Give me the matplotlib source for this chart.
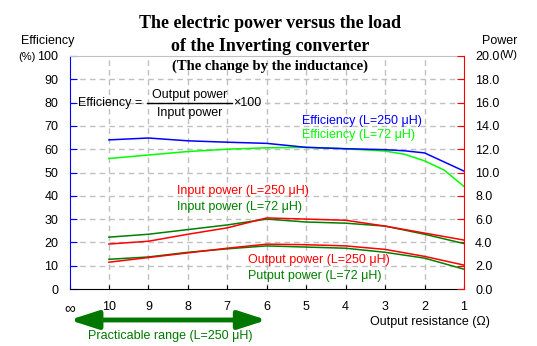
import matplotlib.pyplot as plt
from matplotlib.lines import Line2D

plt.rcParams['font.family'] = ['Liberation Sans', 'DejaVu Sans']
plt.rcParams['font.size'] = 9

# output resistance (ohm) for each measured point
res_eff = [10, 9, 8, 7, 6, 5, 4, 3, 2.5, 2, 1.5, 1]
eff_250 = [64, 64.8, 63.6, 63, 62.5, 60.8, 60.2, 59.8, 59.3, 58.4, 54.5, 50.6]
eff_72 = [56, 57.5, 59, 60, 60.6, 60.8, 60.2, 59.2, 57.8, 55, 51, 44]

res_pw = [10, 9, 8, 7, 6, 5, 4, 3, 2, 1]
pin_250 = [3.86, 4.1, 4.7, 5.25, 6.1, 6.0, 5.9, 5.4, 4.8, 4.2]
pin_72 = [4.45, 4.7, 5.1, 5.5, 6.0, 5.75, 5.65, 5.4, 4.7, 3.9]
pout_250 = [2.3, 2.7, 3.1, 3.5, 3.85, 3.8, 3.7, 3.4, 2.8, 2.05]
pout_72 = [2.55, 2.75, 3.15, 3.45, 3.7, 3.6, 3.5, 3.15, 2.65, 1.7]

x_labels = ['∞', '10', '9', '8', '7', '6', '5', '4', '3', '2', '1']


def pos(r_list):
    # equally spaced axis: infinity at 0, 1 ohm at 10
    return [11 - r for r in r_list]


fig = plt.figure(figsize=(5.37, 3.46), dpi=100)
ax = fig.add_axes([69.5 / 537, 57 / 346, 394.5 / 537, 233 / 346])
ax2 = ax.twinx()

# efficiency (left axis)
ax.plot(pos(res_eff), eff_250, color='#0000ff', lw=1.1, zorder=4)
ax.plot(pos(res_eff), eff_72, color='#00ff00', lw=1.1, zorder=3)

# power (right axis)
ax2.plot(pos(res_pw), pin_72, color='#008000', lw=1.1)
ax2.plot(pos(res_pw), pin_250, color='#ff0000', lw=1.1)
ax2.plot(pos(res_pw), pout_72, color='#008000', lw=1.1)
ax2.plot(pos(res_pw), pout_250, color='#ff0000', lw=1.1)

ax.set_xlim(0, 10)
ax.set_ylim(0, 100)
ax2.set_ylim(0, 20)
ax.set_xticks(range(11))
ax.set_xticklabels(x_labels)
ax.get_xticklabels()[0].set_fontsize(11)
ax.set_yticks(range(0, 101, 10))
ax2.set_yticks(range(0, 21, 2))
ax2.set_yticklabels(['%.1f' % v for v in range(0, 21, 2)])

# grid
for v in range(10, 100, 10):
    ax.axhline(v, color='#c0c0c0', lw=1, ls=(0, (4, 3)), zorder=0)
for v in range(1, 10):
    ax.axvline(v, color='#c0c0c0', lw=1, ls=(0, (4, 3)), zorder=0)

# spines
ax.spines['left'].set_color('#0000ff')
ax.spines['top'].set_color('#c0c0c0')
ax.spines['right'].set_visible(False)
ax.spines['bottom'].set_color('black')
for s in ['left', 'top', 'bottom']:
    ax2.spines[s].set_visible(False)
ax2.spines['right'].set_color('#ff0000')

ax.tick_params(axis='y', direction='in', color='#0000ff', length=5, pad=8)
ax.tick_params(axis='x', direction='in', color='black', length=3, pad=9)
ax2.tick_params(axis='y', direction='in', color='#ff0000', length=5, pad=8)

# titles
fig.text(0.503, 0.931, 'The electric power versus the load', ha='center', va='center',
         family='Liberation Serif', weight='bold', fontsize=13)
fig.text(0.503, 0.867, 'of the Inverting converter', ha='center', va='center',
         family='Liberation Serif', weight='bold', fontsize=13)
fig.text(0.503, 0.809, '(The change by the inductance)', ha='center', va='center',
         family='Liberation Serif', weight='bold', fontsize=10.5)

# axis captions
fig.text(21 / 537, 1 - 41 / 346, 'Efficiency', va='center')
fig.text(18 / 537, 1 - 57 / 346, '(%)', va='center', fontsize=8)
fig.text(482 / 537, 1 - 41 / 346, 'Power', va='center')
fig.text(499 / 537, 1 - 55 / 346, '(W)', va='center', fontsize=8)

# efficiency formula
ax.text(0.215, 79.8, 'Efficiency =', va='center')
ax.text(3.05, 83.4, 'Output power', ha='center', va='center')
ax.text(3.05, 75.4, 'Input power', ha='center', va='center')
ax.add_line(Line2D([1.96, 4.12], [80.0, 80.0], color='black', lw=1))
ax.text(4.14, 80.0, '×100', va='center')

# series labels
ax.text(5.89, 72.1, 'Efficiency (L=250 μH)', color='#0000ff', va='center')
ax.text(5.89, 66.1, 'Efficiency (L=72 μH)', color='#00ff00', va='center')
ax.text(2.72, 42.1, 'Input power (L=250 μH)', color='#ff0000', va='center')
ax.text(2.72, 35.2, 'Input power (L=72 μH)', color='#008000', va='center')
ax.text(4.52, 12.4, 'Output power (L=250 μH)', color='#ff0000', va='center')
ax.text(4.52, 5.6, 'Putput power (L=72 μH)', color='#008000', va='center')

# x axis caption and practicable range arrow
ax.text(7.62, -14.0, 'Output resistance (Ω)', va='center', clip_on=False)
ax.annotate('', xy=(0, -13.3), xytext=(5.0, -13.3), annotation_clip=False,
            arrowprops=dict(arrowstyle='<|-|>,head_length=1.7,head_width=0.55',
                            color='#007800', lw=3.5, shrinkA=0, shrinkB=0,
                            mutation_scale=10))
ax.text(0.47, -20.2, 'Practicable range (L=250 μH)', color='#007800', va='center',
        clip_on=False)

fig.savefig('out.png', dpi=100)
